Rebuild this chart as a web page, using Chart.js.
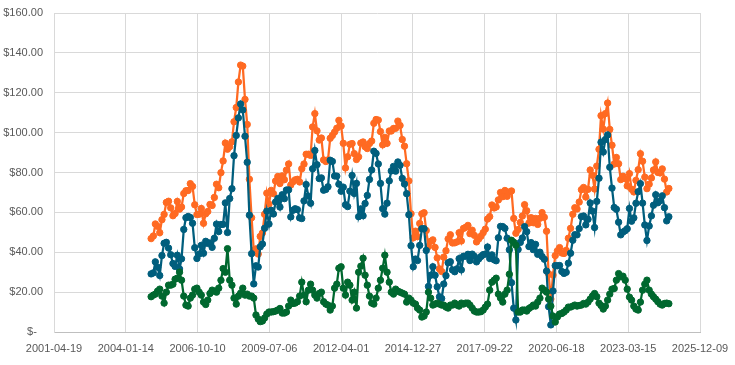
<!DOCTYPE html>
<html>
<head>
<meta charset="utf-8">
<script src="https://cdn.jsdelivr.net/npm/chart.js@4.4.1/dist/chart.umd.min.js"></script>
<style>
  html, body { margin: 0; padding: 0; background: #ffffff; }
  #c { display: block; }
</style>
</head>
<body>
<canvas id="c" width="735" height="365"></canvas>
<script>
// Monthly series, January 2005 onward
const firstYear = 2005;
const firstMonth = 0; // January

const wti = [
  46.84, 48.15, 54.19, 52.98, 49.83, 56.35, 58.99, 64.98, 65.59, 62.26, 58.32, 59.41,
  65.49, 61.63, 62.69, 69.44, 70.84, 70.95, 74.41, 73.04, 63.80, 58.89, 59.08, 61.96,
  54.51, 59.28, 60.44, 63.98, 63.46, 67.49, 74.12, 72.36, 79.92, 85.80, 94.77, 91.69,
  92.97, 95.39, 105.45, 112.58, 125.40, 133.88, 133.37, 116.67, 104.11, 76.61, 57.31, 41.12,
  41.71, 39.09, 47.94, 49.65, 59.03, 69.64, 64.15, 71.05, 69.41, 75.72, 77.99, 74.47,
  78.33, 76.39, 81.20, 84.29, 73.74, 75.34, 76.32, 76.60, 75.24, 81.89, 84.25, 89.15,
  89.17, 88.58, 102.86, 109.53, 100.90, 96.26, 97.30, 86.33, 85.52, 86.32, 97.16, 98.56,
  100.27, 102.20, 106.16, 103.32, 94.66, 82.30, 87.90, 94.13, 94.51, 89.49, 86.53, 87.86,
  94.76, 95.31, 92.94, 92.02, 94.51, 95.77, 104.67, 106.57, 106.29, 100.54, 93.86, 97.63,
  94.62, 100.82, 100.80, 102.07, 102.18, 105.79, 103.59, 96.54, 93.21, 84.40, 75.79, 59.29,
  47.22, 50.58, 47.82, 54.45, 59.27, 59.82, 50.90, 42.87, 45.48, 46.22, 42.44, 37.19,
  31.68, 30.32, 37.55, 40.75, 46.71, 48.76, 44.65, 44.72, 45.18, 49.78, 45.66, 51.97,
  52.50, 53.47, 49.33, 51.06, 48.48, 45.18, 46.63, 48.04, 49.82, 51.58, 56.64, 57.88,
  63.70, 62.23, 62.73, 66.25, 69.98, 67.87, 70.98, 68.06, 70.23, 70.75, 56.96, 49.52,
  51.38, 54.95, 58.15, 63.86, 60.83, 54.66, 57.35, 54.81, 56.95, 53.96, 57.03, 59.88,
  57.52, 50.54, 29.21, 16.55, 28.56, 38.31, 40.71, 42.34, 39.63, 39.40, 40.94, 47.02,
  52.00, 59.04, 62.33, 61.72, 65.17, 71.38, 72.49, 67.73, 71.54, 81.22, 78.65, 71.71,
  83.22, 91.64, 108.50, 101.78, 109.55, 114.84, 101.62, 93.67, 84.26, 87.55, 84.37, 76.44,
  78.12, 76.83, 73.28, 79.45, 71.58, 70.25, 76.07, 81.39, 89.43, 85.64, 77.69, 71.90,
  74.15, 77.25, 81.28, 85.35, 80.02, 79.77, 81.80, 76.68, 70.24, 71.99
];

const wcs = [
  29.14, 29.65, 35.19, 32.48, 28.33, 38.35, 44.49, 44.98, 42.09, 38.76, 34.32, 32.91,
  38.49, 31.63, 36.69, 51.44, 57.34, 57.95, 57.41, 54.54, 42.30, 36.89, 39.08, 43.46,
  39.51, 45.48, 44.44, 44.68, 42.46, 46.99, 54.12, 50.36, 53.92, 54.00, 64.77, 49.89,
  66.97, 71.89, 88.45, 98.58, 107.40, 114.38, 111.37, 98.17, 85.11, 58.61, 39.31, 24.12,
  33.21, 32.59, 42.74, 44.15, 52.03, 60.64, 54.15, 61.05, 59.21, 65.22, 66.99, 62.67,
  68.83, 66.89, 71.20, 71.29, 57.74, 61.04, 61.82, 61.40, 57.24, 56.89, 65.75, 73.95,
  68.17, 64.58, 81.86, 91.03, 83.90, 76.96, 77.30, 71.13, 71.52, 72.82, 86.16, 85.56,
  78.27, 78.20, 74.16, 70.62, 72.66, 63.80, 62.90, 70.63, 78.51, 69.49, 74.53, 57.86,
  61.76, 58.31, 64.44, 68.52, 76.51, 81.27, 90.67, 89.57, 84.29, 74.54, 61.86, 59.13,
  64.62, 75.82, 80.80, 83.07, 80.68, 85.29, 83.59, 77.04, 74.21, 69.40, 58.79, 43.29,
  32.72, 36.58, 35.82, 43.45, 51.77, 51.82, 40.90, 22.87, 28.48, 32.72, 28.44, 22.69,
  17.68, 16.82, 24.05, 28.25, 34.71, 35.26, 31.15, 30.22, 31.68, 36.78, 31.16, 37.97,
  38.00, 38.97, 35.83, 39.06, 37.98, 35.18, 36.63, 37.84, 38.82, 39.08, 42.64, 36.88,
  38.70, 36.23, 35.73, 47.25, 52.98, 52.87, 51.98, 47.06, 41.23, 24.75, 11.96, 6.02,
  41.38, 44.95, 47.15, 52.86, 50.33, 42.86, 44.85, 41.31, 43.95, 38.96, 40.03, 37.88,
  36.52, 30.54, 12.71, 3.55, 20.56, 33.31, 33.21, 33.34, 30.33, 29.40, 29.94, 34.52,
  39.50, 46.04, 48.83, 48.72, 51.87, 57.88, 58.19, 53.73, 56.54, 64.72, 60.65, 52.41,
  65.52, 77.14, 95.20, 90.28, 96.55, 98.84, 82.62, 72.17, 62.46, 61.55, 55.07, 48.74,
  50.12, 50.83, 51.78, 61.95, 55.58, 57.25, 64.57, 70.39, 74.43, 64.64, 53.69, 45.90,
  53.15, 58.25, 63.58, 68.85, 64.82, 65.77, 68.30, 62.38, 55.74, 57.79
];

const differential = [
  17.7, 18.5, 19.0, 20.5, 21.5, 18.0, 14.5, 20.0, 23.5, 23.5, 24.0, 26.5,
  27.0, 30.0, 26.0, 18.0, 13.5, 13.0, 17.0, 18.5, 21.5, 22.0, 20.0, 18.5,
  15.0, 13.8, 16.0, 19.3, 21.0, 20.5, 20.0, 22.0, 26.0, 31.8, 30.0, 41.8,
  26.0, 23.5, 17.0, 14.0, 18.0, 19.5, 22.0, 18.5, 19.0, 18.0, 18.0, 17.0,
  8.5, 6.5, 5.2, 5.5, 7.0, 9.0, 10.0, 10.0, 10.2, 10.5, 11.0, 11.8,
  9.5, 9.5, 10.0, 13.0, 16.0, 14.3, 14.5, 15.2, 18.0, 25.0, 18.5, 15.2,
  21.0, 24.0, 21.0, 18.5, 17.0, 19.3, 20.0, 15.2, 14.0, 13.5, 11.0, 13.0,
  22.0, 24.0, 32.0, 32.7, 22.0, 18.5, 25.0, 23.5, 16.0, 20.0, 12.0, 30.0,
  33.0, 37.0, 28.5, 23.5, 18.0, 14.5, 14.0, 17.0, 22.0, 26.0, 32.0, 38.5,
  30.0, 25.0, 20.0, 19.0, 21.5, 20.5, 20.0, 19.5, 19.0, 15.0, 17.0, 16.0,
  14.5, 14.0, 12.0, 11.0, 7.5, 8.0, 10.0, 20.0, 17.0, 13.5, 14.0, 14.5,
  14.0, 13.5, 13.5, 12.5, 12.0, 13.5, 13.5, 14.5, 13.5, 13.0, 14.5, 14.0,
  14.5, 14.5, 13.5, 12.0, 10.5, 10.0, 10.0, 10.2, 11.0, 12.5, 14.0, 21.0,
  25.0, 26.0, 27.0, 19.0, 17.0, 15.0, 19.0, 21.0, 29.0, 46.0, 45.0, 43.5,
  10.0, 10.0, 11.0, 11.0, 10.5, 11.8, 12.5, 13.5, 13.0, 15.0, 17.0, 22.0,
  21.0, 20.0, 16.5, 13.0, 8.0, 5.0, 7.5, 9.0, 9.3, 10.0, 11.0, 12.5,
  12.5, 13.0, 13.5, 13.0, 13.3, 13.5, 14.3, 14.0, 15.0, 16.5, 18.0, 19.3,
  17.7, 14.5, 13.3, 11.5, 13.0, 16.0, 19.0, 21.5, 21.8, 26.0, 29.3, 27.7,
  28.0, 26.0, 21.5, 17.5, 16.0, 13.0, 11.5, 11.0, 15.0, 21.0, 24.0, 26.0,
  21.0, 19.0, 17.7, 16.5, 15.2, 14.0, 13.5, 14.3, 14.5, 14.2
];

// Axis ticks (spreadsheet date serials, every 1000 days) and price ticks
const xTickMin = 37000, xTickMax = 46000, xTickStep = 1000;
const yTickMin = 0, yTickMax = 160, yTickStep = 20;

// Category (month) -> spreadsheet date serial
function monthSerial(i) {
  const y = firstYear + Math.floor((firstMonth + i) / 12);
  const m = (firstMonth + i) % 12;
  return Date.UTC(y, m, 1) / 86400000 + 25569;
}
function serialLabel(v) {
  const d = new Date((v - 25569) * 86400000);
  return d.toISOString().slice(0, 10);
}
function pts(arr) {
  return arr.map((v, i) => ({ x: monthSerial(i), y: v }));
}

const ORANGE = '#FF6A22';
const BLUE = '#005E7D';
const GREEN = '#00682F';

function ds(label, arr, color, order) {
  return {
    label: label,
    data: pts(arr),
    borderColor: color,
    backgroundColor: color,
    pointBackgroundColor: color,
    pointBorderColor: color,
    borderWidth: 2.25,
    pointRadius: 3.2,
    pointBorderWidth: 1,
    pointHoverRadius: 3.2,
    tension: 0,
    fill: false,
    order: order
  };
}

const FONT = { family: "'Liberation Sans', Arial, sans-serif", size: 11 };

new Chart(document.getElementById('c'), {
  type: 'line',
  data: {
    datasets: [
      ds('WTI', wti, ORANGE, 3),
      ds('WCS', wcs, BLUE, 2),
      ds('Differential', differential, GREEN, 1)
    ]
  },
  options: {
    responsive: false,
    devicePixelRatio: 1,
    animation: false,
    layout: { padding: { left: 2, right: 0, top: 0, bottom: 0 } },
    plugins: { legend: { display: false }, tooltip: { enabled: false } },
    scales: {
      x: {
        type: 'linear',
        min: xTickMin,
        max: xTickMax,
        afterFit: (s) => { s.height = 33; s.paddingLeft = 0; s.paddingRight = 35; },
        ticks: {
          stepSize: xTickStep,
          autoSkip: false,
          maxRotation: 0,
          color: '#595959',
          font: FONT,
          padding: 10,
          callback: (v) => serialLabel(v)
        },
        grid: { color: '#D9D9D9', drawTicks: false, lineWidth: 1 },
        border: { color: '#BFBFBF' }
      },
      y: {
        min: yTickMin,
        max: yTickMax,
        afterFit: (s) => { s.width = 52; s.paddingTop = 13; s.paddingBottom = 0; },
        ticks: {
          stepSize: yTickStep,
          color: '#595959',
          font: FONT,
          padding: 11,
          callback: (v) => (v === 0 ? '$-  ' : '$' + v.toFixed(2))
        },
        grid: { color: '#D9D9D9', drawTicks: false, lineWidth: 1 },
        border: { color: '#D9D9D9' }
      }
    }
  }
});
</script>
</body>
</html>
